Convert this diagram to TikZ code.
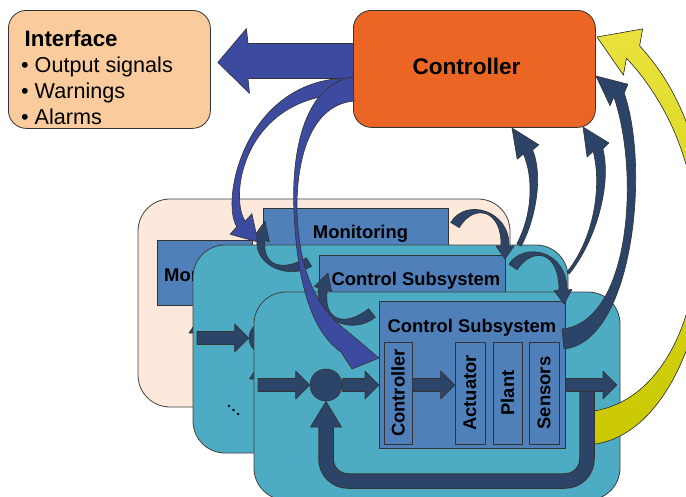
\documentclass[tikz,border=0pt]{standalone}
\usepackage{fontspec}
\setmainfont{Liberation Sans}
\usetikzlibrary{calc}
\usetikzlibrary{positioning}

\definecolor{ifacepeach}{HTML}{FACB9C}
\definecolor{ctrlorange}{HTML}{EB6524}
\definecolor{backpeach}{HTML}{FDE9DB}
\definecolor{panelteal}{HTML}{4DABC4}
\definecolor{boxblue}{HTML}{5080BA}
\definecolor{navy}{HTML}{2B4468}
\definecolor{royal}{HTML}{3C4AA0}
\definecolor{yellowlight}{HTML}{EAE23C}
\definecolor{yellowdark}{HTML}{C8C800}

\newcommand\ifacefont{\fontsize{21.6}{26}\selectfont}
\newcommand\ifacetitlefont{\fontsize{22.3}{26}\selectfont}
\newcommand\ctrlfont{\fontsize{22.6}{26}\selectfont}
\newcommand\boxfont{\fontsize{18.4}{21}\selectfont}

% tapered curved arrow: style, tail, control, control, head base, tip, tail width, end width, head width
\newcommand\bentarrow[9]{%
  \coordinate (ba0) at (#2);
  \coordinate (ba1) at (#3);
  \coordinate (ba2) at (#4);
  \coordinate (ba3) at (#5);
  \coordinate (bat) at (#6);
  \path ($(ba0)!#7/2!90:(ba1)$) coordinate (bl0)
        ($(ba0)!#7/2!-90:(ba1)$) coordinate (br0)
        ($(ba3)!#8/2!-90:(ba2)$) coordinate (bl3)
        ($(ba3)!#8/2!90:(ba2)$) coordinate (br3)
        ($(ba3)!#9/2!90:(bat)$) coordinate (bhl)
        ($(ba3)!#9/2!-90:(bat)$) coordinate (bhr);
  \filldraw[#1] (bl0) .. controls ($(ba1)+(bl0)-(ba0)$) and ($(ba2)+(bl3)-(ba3)$) .. (bl3)
    -- (bhl) -- (bat) -- (bhr) -- (br3)
    .. controls ($(ba2)+(br3)-(ba3)$) and ($(ba1)+(br0)-(ba0)$) .. (br0) -- cycle;
}
% straight block arrow: tail, tip
\newcommand\blockarrow[2]{%
  \coordinate (bb0) at (#1);
  \coordinate (bbt) at (#2);
  \coordinate (bb3) at ($(bbt)!14pt!(bb0)$);
  \bentarrow{darkarrow}{bb0}{$(bb0)!0.3!(bb3)$}{$(bb0)!0.7!(bb3)$}{bb3}{bbt}{13pt}{13pt}{28pt}%
}

\begin{document}
\begin{tikzpicture}[x=1pt, y=-1pt, line join=round,
  panel/.style={draw=black!75, line width=0.8pt, rounded corners=32pt},
  blockbox/.style={draw=black!80, fill=boxblue, line width=0.7pt, inner sep=0pt},
  darkarrow/.style={fill=navy, draw=black!80, line width=0.6pt},
  bluearrow/.style={fill=royal, draw=black!80, line width=0.6pt},
  yellowarrow/.style={top color=yellowlight, bottom color=yellowdark, draw=black!80, line width=0.6pt},
  boxtitle/.style={font=\boxfont\bfseries, inner sep=0pt, anchor=base}]
\useasboundingbox (0,0) rectangle (686,496);
\clip (0,0) rectangle (686,496);

% interface
\node[draw=black!80, fill=ifacepeach, line width=0.8pt, rounded corners=18pt,
      minimum width=202pt, minimum height=118pt, anchor=north west] (iface) at (8,10) {};
\node[anchor=north west, align=left, inner sep=0pt, font=\ifacefont] (ifacetext) at (21,30)
  {\hspace*{3.5pt}{\ifacetitlefont\bfseries Interface}\\• Output signals\\• Warnings\\• Alarms};

% controller
\coordinate (bigtail) at (372,61);
\coordinate (bigtip) at ($(iface.east)+(7,-7)$);
\bentarrow{bluearrow}{bigtail}{330,61}{290,61}{248,61}{bigtip}{35pt}{35pt}{65pt}
\node[draw=black!80, fill=ctrlorange, line width=0.8pt, rounded corners=18pt,
      minimum width=242pt, minimum height=117pt, anchor=north west] (ctrl) at (353,10) {};
\node[font=\ctrlfont\bfseries, anchor=base, inner sep=0pt] (ctrltext) at (466.5,74) {Controller};

% back panel
\draw[panel, fill=backpeach] (138,199) rectangle (510,407);
\node[blockbox, anchor=north west, minimum width=185pt, minimum height=72pt] (mon) at (263,208) {};
\node[boxtitle] (montext) at (360.5,238) {Monitoring};
\node[blockbox, anchor=north west, minimum width=95pt, minimum height=65pt] (mon0) at (157,240) {};
\node[boxtitle, anchor=base west] (mon0text) at (164,281) {Monitoring};
\filldraw[darkarrow] (189,333) -- (204,311) -- (219,333) -- cycle;

% middle panel
\draw[panel, fill=panelteal] (193,245) rectangle (568,453);
\node[blockbox, anchor=north west, minimum width=186pt, minimum height=146pt] (cs2) at (319,255) {};
\node[boxtitle] (cs2text) at (416,285) {Control Subsystem};
\node[circle, draw=black!80, fill=navy, line width=0.6pt, minimum size=32pt, inner sep=0pt] (sum2) at (265,338) {};
\coordinate (in2) at (197,338);
\blockarrow{in2}{sum2.west}
\filldraw[darkarrow] (249.5,379) -- (sum2.south) -- (280.5,379) -- cycle;
\foreach \dx/\dy in {229/406, 233.5/410, 238/414}
  \fill (\dx,\dy) circle (1.3pt);

% front panel
\draw[panel, fill=panelteal] (254,292) rectangle (620,500);
\coordinate (ytail) at (590,428);
\coordinate (ytip) at (597,37);
\bentarrow{yellowarrow}{ytail}{702,418}{752,180}{633,52}{ytip}{33pt}{18pt}{50pt}
\node[blockbox, anchor=north west, minimum width=186pt, minimum height=147pt] (cs) at (379,301) {};
\node[boxtitle] (cstext) at (472,332) {Control Subsystem};
\node[blockbox, rotate=90, minimum width=102pt, minimum height=28pt, font=\boxfont\bfseries] (ctl) at (398,393) {Controller};
\node[blockbox, rotate=90, minimum width=102pt, minimum height=30pt, font=\boxfont\bfseries] (act) at (470,393) {Actuator};
\node[blockbox, rotate=90, minimum width=102pt, minimum height=29pt, font=\boxfont\bfseries] (plant) at (507.5,393) {Plant};
\node[blockbox, rotate=90, minimum width=102pt, minimum height=30pt, font=\boxfont\bfseries] (sens) at (544,393) {Sensors};
\node[circle, draw=black!80, fill=navy, line width=0.6pt, minimum size=32pt, inner sep=0pt] (sum) at (326,385) {};

% feedback loop
\coordinate (fbtop) at (587,387);
\coordinate (fbend) at (326,424);
\draw[line width=15.5pt, draw=black!80, rounded corners=22pt] (fbtop) -- (587,481) -- (326,481) -- (fbend);
\draw[line width=13.5pt, draw=navy, rounded corners=22pt] (fbtop) -- (587,481) -- (326,481) -- (fbend);
\filldraw[darkarrow] (319.25,427) -- (310.5,427) -- (sum.south) -- (341.5,427) -- (332.75,427);

\coordinate (in) at (258,385);
\coordinate (outtip) at (617,385);
\blockarrow{in}{sum.west}
\blockarrow{sum.east}{cs.west |- sum}
\blockarrow{ctl.south |- sum}{act.north |- sum}
\blockarrow{cs.east |- sum}{outtip}

% arrows between panels
\bentarrow{darkarrow}{309,262}{286,276}{258,266}{261,240}{265,221}{10pt}{8pt}{17pt}
\bentarrow{bluearrow}{353,86}{245,84}{224,198}{241,224}{258,242}{16pt}{10pt}{30pt}
\bentarrow{darkarrow}{372,313}{348,332}{318,320}{323,289}{328,273}{11pt}{9pt}{18pt}
\bentarrow{darkarrow}{455,225}{470,200}{506,210}{505,246}{505,259}{10pt}{8pt}{18pt}
\bentarrow{darkarrow}{513,267}{528,244}{563,250}{563,290}{564,304}{10pt}{8pt}{18pt}

% arrows up to the controller
\bentarrow{darkarrow}{519,245}{535,215}{538,175}{528,152}{512,128}{5pt}{10pt}{26pt}
\bentarrow{darkarrow}{568,273}{595,240}{607,185}{598,150}{583,127}{3pt}{10pt}{26pt}
\bentarrow{darkarrow}{563,339}{632,332}{645,170}{619,95}{596,76}{20pt}{11pt}{28pt}

% down into the front subsystem
\filldraw[bluearrow] (353,77) .. controls (305,84) and (291,150) .. (294,212)
  .. controls (297,283) and (312,332) .. (341,352) -- (352,369) -- (379,358) -- (347,331)
  .. controls (316,308) and (299,270) .. (297,212)
  .. controls (296,160) and (310,105) .. (354,101) -- cycle;

\end{tikzpicture}
\end{document}
